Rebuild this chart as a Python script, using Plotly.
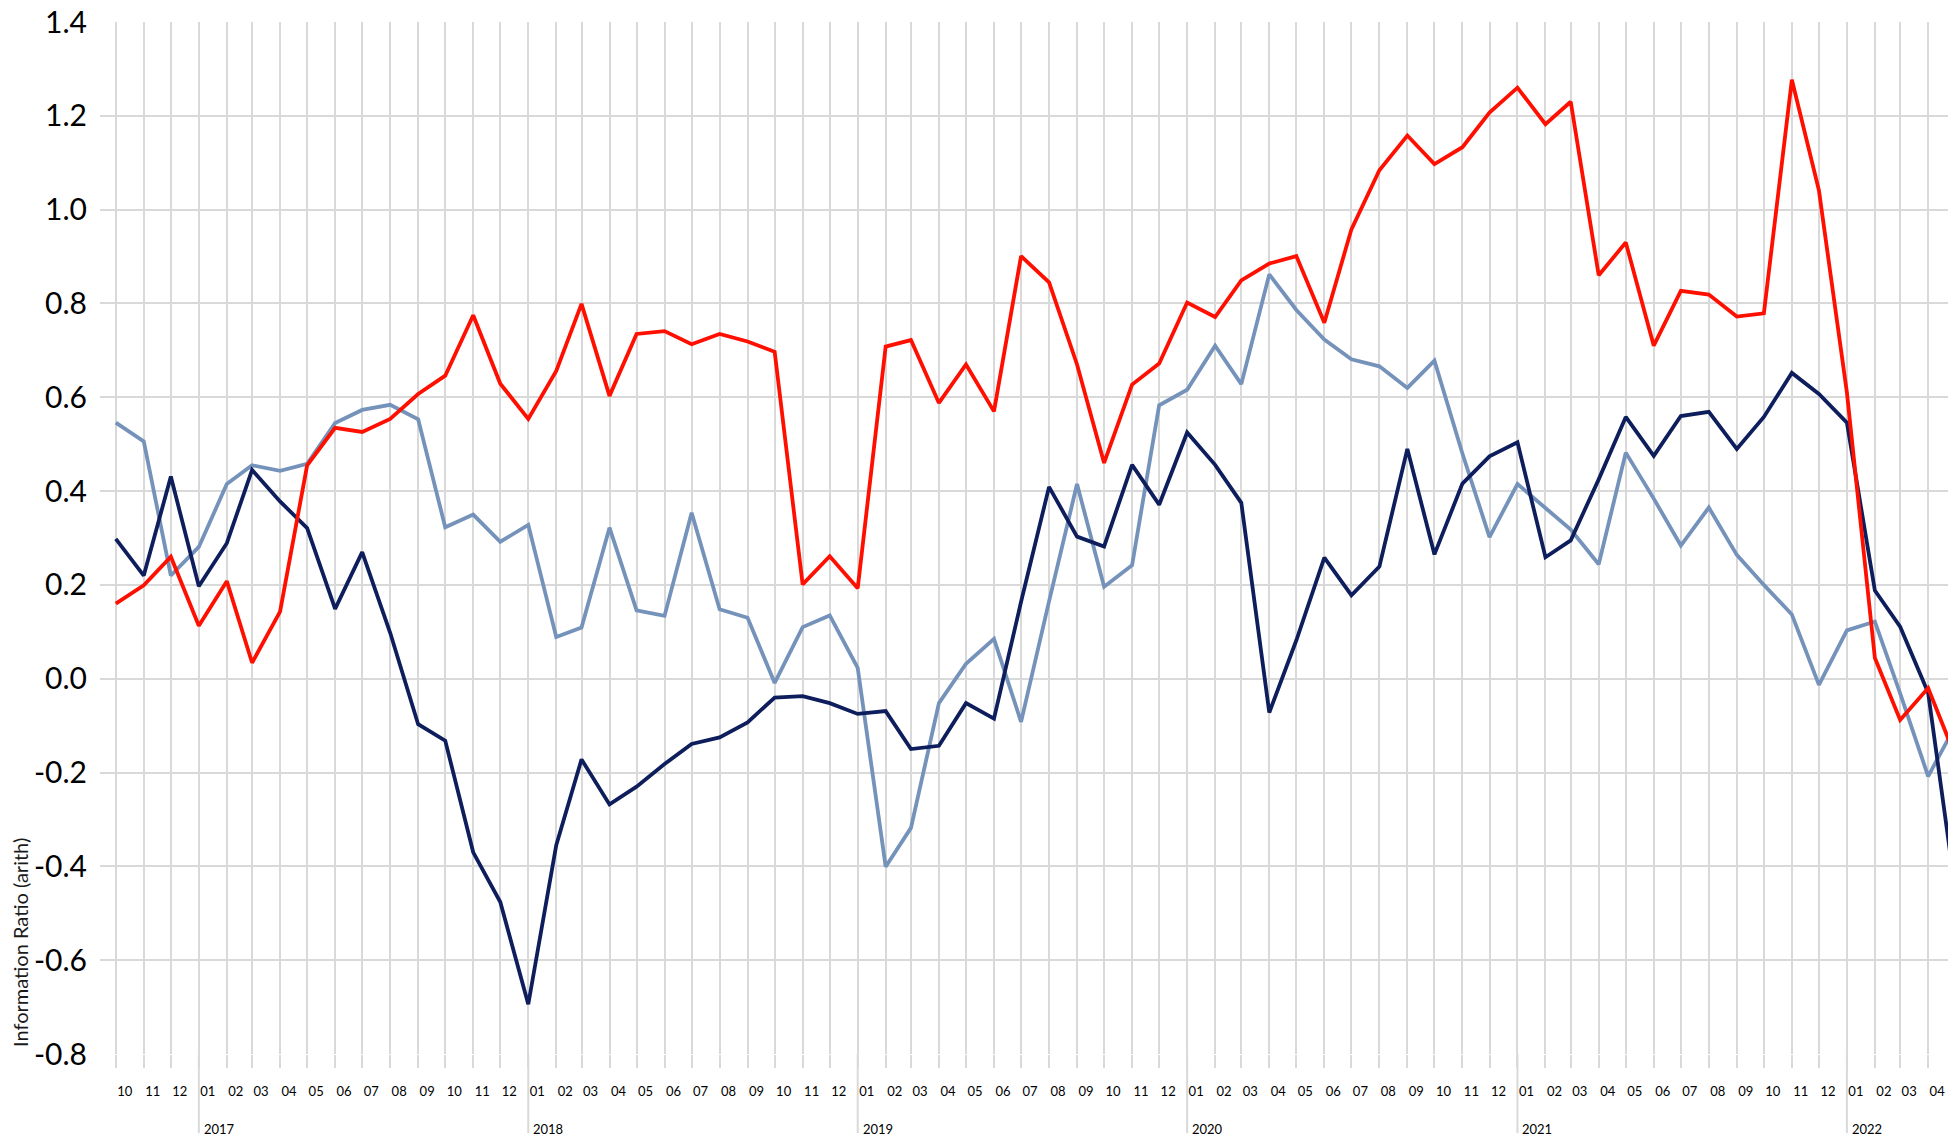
import pandas as pd
import plotly.graph_objects as go

# Month-start dates, Oct 2016 .. May 2022
months = pd.date_range("2016-10-01", periods=68, freq="MS")

red_series = [0.160, 0.199, 0.260, 0.113, 0.208, 0.034, 0.143, 0.455, 0.535, 0.526,
              0.554, 0.607, 0.646, 0.775, 0.629, 0.554, 0.656, 0.799, 0.603, 0.735,
              0.741, 0.713, 0.735, 0.719, 0.697, 0.201, 0.261, 0.193, 0.708, 0.722,
              0.588, 0.670, 0.570, 0.901, 0.845, 0.670, 0.460, 0.627, 0.672, 0.802,
              0.771, 0.849, 0.885, 0.901, 0.759, 0.958, 1.084, 1.158, 1.097, 1.133,
              1.207, 1.260, 1.182, 1.230, 0.860, 0.930, 0.710, 0.827, 0.819, 0.772,
              0.779, 1.277, 1.041, 0.610, 0.044, -0.088, -0.020, -0.165]

navy_series = [0.298, 0.220, 0.431, 0.197, 0.289, 0.445, 0.378, 0.321, 0.149, 0.270,
               0.098, -0.097, -0.132, -0.370, -0.476, -0.694, -0.355, -0.172, -0.268, -0.230,
               -0.182, -0.139, -0.125, -0.093, -0.040, -0.037, -0.052, -0.075, -0.069, -0.150,
               -0.143, -0.052, -0.085, 0.164, 0.409, 0.303, 0.282, 0.456, 0.371, 0.525,
               0.456, 0.375, -0.072, 0.082, 0.258, 0.178, 0.239, 0.490, 0.265, 0.416,
               0.474, 0.504, 0.259, 0.295, 0.425, 0.558, 0.475, 0.560, 0.569, 0.490,
               0.558, 0.652, 0.607, 0.546, 0.188, 0.111, -0.030, -0.450]

steel_series = [0.546, 0.506, 0.220, 0.281, 0.415, 0.455, 0.443, 0.458, 0.545, 0.573,
                0.584, 0.553, 0.323, 0.350, 0.292, 0.328, 0.089, 0.109, 0.322, 0.146,
                0.134, 0.354, 0.148, 0.130, -0.009, 0.110, 0.135, 0.023, -0.401, -0.318,
                -0.052, 0.032, 0.085, -0.092, 0.165, 0.415, 0.196, 0.242, 0.583, 0.616,
                0.710, 0.628, 0.862, 0.786, 0.723, 0.681, 0.666, 0.620, 0.678, 0.480,
                0.302, 0.415, 0.364, 0.318, 0.244, 0.482, 0.384, 0.284, 0.365, 0.264,
                0.200, 0.137, -0.013, 0.103, 0.122, -0.031, -0.208, -0.101]

y_tick_vals = [-0.8, -0.6, -0.4, -0.2, 0.0, 0.2, 0.4, 0.6, 0.8, 1.0, 1.2, 1.4]
y_tick_text = ["-0.8", "-0.6", "-0.4", "-0.2", "0.0", "0.2", "0.4", "0.6", "0.8", "1.0", "1.2", "1.4"]
year_labels = ["2017", "2018", "2019", "2020", "2021", "2022"]
year_starts = ["2017-01-01", "2018-01-01", "2019-01-01", "2020-01-01", "2021-01-01", "2022-01-01"]

GRID = "#D9D9D9"
FONT = "Lato"

fig = go.Figure()
for vals, color in [(steel_series, "#7592BA"), (navy_series, "#0E1E5C"), (red_series, "#FF0F00")]:
    fig.add_trace(go.Scatter(x=months, y=vals, mode="lines",
                             line=dict(color=color, width=3.8), showlegend=False,
                             hoverinfo="skip"))

shapes = []
annotations = []
for ys, yl in zip(year_starts, year_labels):
    shapes.append(dict(type="line", xref="x", yref="paper", x0=ys, x1=ys,
                       y0=0, y1=-0.0766, line=dict(color=GRID, width=2), layer="below"))
    annotations.append(dict(xref="x", yref="paper", x=ys, y=-0.0725, text=yl,
                            showarrow=False, xanchor="left", yanchor="middle", xshift=3,
                            font=dict(family=FONT, size=13, color="#000000")))

annotations.append(dict(xref="paper", yref="paper", x=0, y=0.1076, xshift=-80,
                        text="Information Ratio (arith)", textangle=-90, showarrow=False,
                        xanchor="center", yanchor="middle",
                        font=dict(family=FONT, size=20, color="#1a1a1a")))

fig.update_layout(
    width=1948, height=1141,
    margin=dict(l=100, r=0, t=22, b=87, autoexpand=False),
    plot_bgcolor="#FFFFFF", paper_bgcolor="#FFFFFF",
    font=dict(family=FONT, color="#000000"),
    shapes=shapes, annotations=annotations,
    xaxis=dict(type="date", range=["2016-09-13 12:00", "2022-04-23"], automargin=False,
               tick0="2016-10-01", dtick="M1", tickformat="%m", ticklabelmode="instant",
               ticklabelshift=9, ticklabelstandoff=12, ticklabeloverflow="allow",
               showgrid=True, gridcolor=GRID, gridwidth=2,
               ticks="outside", ticklen=13, tickwidth=2, tickcolor=GRID,
               tickfont=dict(family=FONT, size=13, color="#000000"),
               showline=False, zeroline=False),
    yaxis=dict(range=[-0.8, 1.4], tickvals=y_tick_vals, ticktext=y_tick_text, automargin=False,
               showgrid=True, gridcolor=GRID, gridwidth=2, zeroline=False,
               showline=False, ticks="", ticklabelstandoff=12, ticklabeloverflow="allow",
               tickfont=dict(family=FONT, size=30, color="#000000")),
)

# Remove the browser's default 8px body margin so the figure fills the window exactly.
fig.write_html("out.html", config={"displayModeBar": False},
               post_script="document.body.style.margin='0';document.body.style.overflow='hidden';")
